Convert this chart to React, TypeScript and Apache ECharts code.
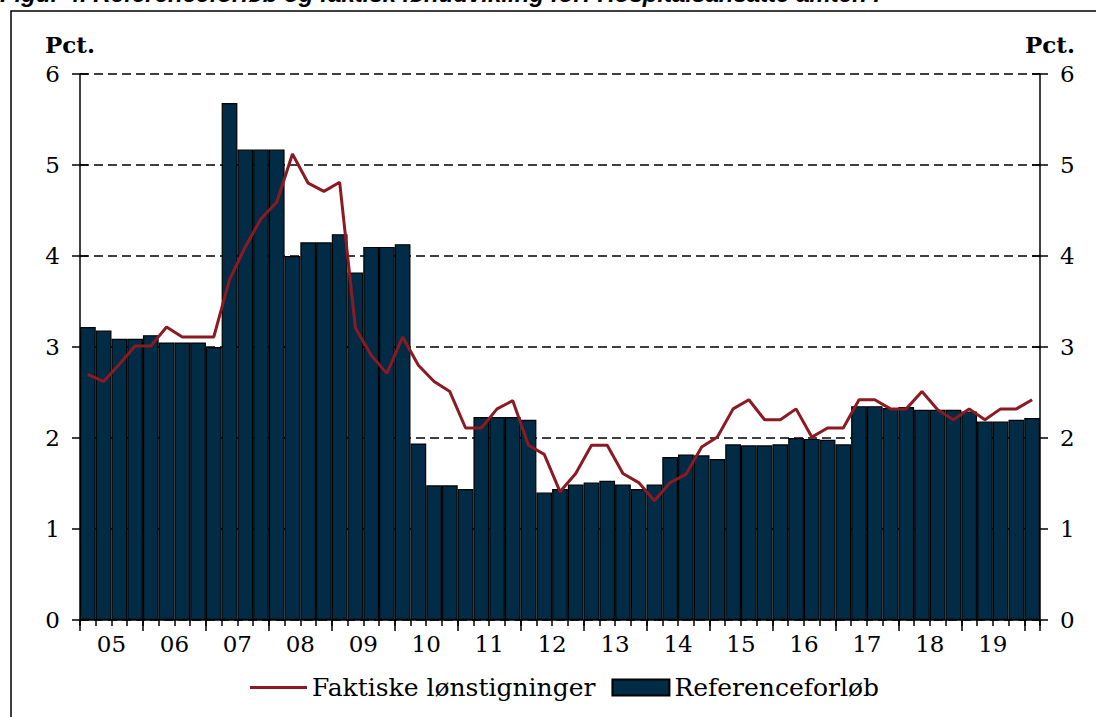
import { useEffect, useRef } from "react";
import * as echarts from "echarts";

const quarters = [
  "2005K1", "2005K2", "2005K3", "2005K4",
  "2006K1", "2006K2", "2006K3", "2006K4",
  "2007K1", "2007K2", "2007K3", "2007K4",
  "2008K1", "2008K2", "2008K3", "2008K4",
  "2009K1", "2009K2", "2009K3", "2009K4",
  "2010K1", "2010K2", "2010K3", "2010K4",
  "2011K1", "2011K2", "2011K3", "2011K4",
  "2012K1", "2012K2", "2012K3", "2012K4",
  "2013K1", "2013K2", "2013K3", "2013K4",
  "2014K1", "2014K2", "2014K3", "2014K4",
  "2015K1", "2015K2", "2015K3", "2015K4",
  "2016K1", "2016K2", "2016K3", "2016K4",
  "2017K1", "2017K2", "2017K3", "2017K4",
  "2018K1", "2018K2", "2018K3", "2018K4",
  "2019K1", "2019K2", "2019K3", "2019K4",
  "2020K1",
];

const yearLabels = ["05", "06", "07", "08", "09", "10", "11", "12", "13", "14", "15", "16", "17", "18", "19"];

const referenceforloeb = [
  3.22, 3.18, 3.09, 3.09,
  3.13, 3.05, 3.05, 3.05,
  3.0, 5.68, 5.17, 5.17,
  5.17, 4.0, 4.15, 4.15,
  4.24, 3.82, 4.1, 4.1,
  4.13, 1.94, 1.48, 1.48,
  1.44, 2.23, 2.23, 2.23,
  2.2, 1.4, 1.44, 1.49,
  1.51, 1.53, 1.49, 1.44,
  1.49, 1.79, 1.82, 1.81,
  1.77, 1.93, 1.92, 1.92,
  1.93, 2.0, 1.99, 1.98,
  1.93, 2.35, 2.35, 2.33,
  2.34, 2.31, 2.31, 2.31,
  2.29, 2.18, 2.18, 2.2,
  2.22,
];

const faktiskeLoenstigninger = [
  2.7, 2.62, 2.81, 3.01,
  3.01, 3.22, 3.11, 3.11,
  3.11, 3.74, 4.1, 4.41,
  4.59, 5.12, 4.8, 4.71,
  4.81, 3.21, 2.91, 2.71,
  3.11, 2.8, 2.62, 2.51,
  2.11, 2.11, 2.32, 2.41,
  1.92, 1.82, 1.41, 1.61,
  1.92, 1.92, 1.61, 1.51,
  1.31, 1.51, 1.6, 1.9,
  2.01, 2.32, 2.42, 2.2,
  2.2, 2.32, 2.01, 2.11,
  2.11, 2.42, 2.42, 2.32,
  2.32, 2.51, 2.31, 2.2,
  2.32, 2.2, 2.32, 2.32,
  2.42,
];

const seriesNames = ["Faktiske lønstigninger", "Referenceforløb"];
const unitLabel = "Pct.";
const titleText = "Figur 4. Referenceforløb og faktisk lønudvikling for: Hospitalsansatte amter. I";

export default function App() {
  const ref = useRef<HTMLDivElement>(null);

  useEffect(() => {
    const chart = echarts.init(ref.current!, null, { renderer: "svg" });
    const font = "'DejaVu Serif', serif";
    const labelStyle = { fontFamily: font, fontSize: 23, color: "#000" };
    const barColor = "#022b45";
    const lineColor = "#8c1a22";

    const yMain = (position: "left" | "right") => ({
      type: "value",
      position,
      min: 0,
      max: 6,
      interval: 1,
      axisLine: { show: true, lineStyle: { color: "#000", width: 1.5 } },
      axisTick: { show: true, length: 8, lineStyle: { color: "#000", width: 1.5 } },
      axisLabel: { ...labelStyle, margin: 20 },
      splitLine:
        position === "left"
          ? { show: true, lineStyle: { color: "#000", width: 1.5, type: [9, 5] } }
          : { show: false },
    });
    const yInside = (position: "left" | "right") => ({
      type: "value",
      position,
      min: 0,
      max: 6,
      interval: 1,
      axisLine: { show: false },
      axisTick: { show: true, inside: true, length: 8, lineStyle: { color: "#000", width: 1.5 } },
      axisLabel: { show: false },
      splitLine: { show: false },
    });

    chart.setOption({
      animation: false,
      backgroundColor: "#fff",
      grid: { left: 80, right: 56, top: 74, bottom: 97, containLabel: false },
      legend: {
        data: [
          { name: seriesNames[0], icon: "path://M0,0h57v3H0z" },
          { name: seriesNames[1], icon: "rect" },
        ],
        left: 245,
        top: 670,
        itemWidth: 57,
        itemHeight: 16,
        itemGap: 16,
        textStyle: { ...labelStyle, fontSize: 25 },
      },
      xAxis: [
        {
          type: "category",
          data: quarters,
          boundaryGap: true,
          axisLine: { show: true, lineStyle: { color: "#000", width: 1.5 } },
          axisTick: { show: true, interval: 0, length: 6, lineStyle: { color: "#000", width: 1.5 } },
          axisLabel: {
            ...labelStyle,
            margin: 12,
            interval: (index: number) => index % 4 === 1 && index < 60,
            formatter: (_v: string, index: number) => yearLabels[Math.floor(index / 4)] ?? "",
            padding: [0, 0, 0, 15.7],
          },
          splitLine: { show: false },
        },
        {
          type: "category",
          data: quarters,
          boundaryGap: true,
          position: "bottom",
          axisLine: { show: false },
          axisTick: {
            show: true,
            interval: (index: number) => index % 4 === 0,
            length: 11,
            lineStyle: { color: "#000", width: 1.5 },
          },
          axisLabel: { show: false },
          splitLine: { show: false },
        },
      ],
      yAxis: [yMain("left"), yMain("right"), yInside("left"), yInside("right")],
      graphic: [
        {
          type: "rect",
          shape: { x: 11, y: 11, width: 1200, height: 800 },
          style: { fill: "none", stroke: "#000", lineWidth: 1.5 },
          silent: true,
        },
        {
          type: "text",
          x: 0,
          y: -7,
          style: {
            text: titleText,
            font: "italic bold 24px 'Liberation Sans', Arial, sans-serif",
            fill: "#000",
            verticalAlign: "middle",
            align: "left",
          },
        },
        {
          type: "text",
          x: 45,
          y: 44,
          style: {
            text: unitLabel,
            font: "bold 23px 'DejaVu Serif', serif",
            fill: "#000",
            verticalAlign: "middle",
            align: "left",
          },
        },
        {
          type: "text",
          x: 1075,
          y: 44,
          style: {
            text: unitLabel,
            font: "bold 23px 'DejaVu Serif', serif",
            fill: "#000",
            verticalAlign: "middle",
            align: "right",
          },
        },
      ],
      series: [
        {
          name: seriesNames[1],
          type: "bar",
          xAxisIndex: 0,
          yAxisIndex: 0,
          data: referenceforloeb,
          barCategoryGap: "0%",
          itemStyle: { color: barColor, borderColor: "#000", borderWidth: 1.2 },
          z: 2,
        },
        {
          name: seriesNames[0],
          type: "line",
          xAxisIndex: 0,
          yAxisIndex: 0,
          data: faktiskeLoenstigninger,
          symbol: "none",
          lineStyle: { color: lineColor, width: 3 },
          itemStyle: { color: lineColor },
          z: 3,
        },
      ],
    });

    return () => chart.dispose();
  }, []);

  return (
    <div
      ref={ref}
      style={{ position: "fixed", left: 0, top: 0, width: 1096, height: 717, background: "#fff" }}
    />
  );
}
